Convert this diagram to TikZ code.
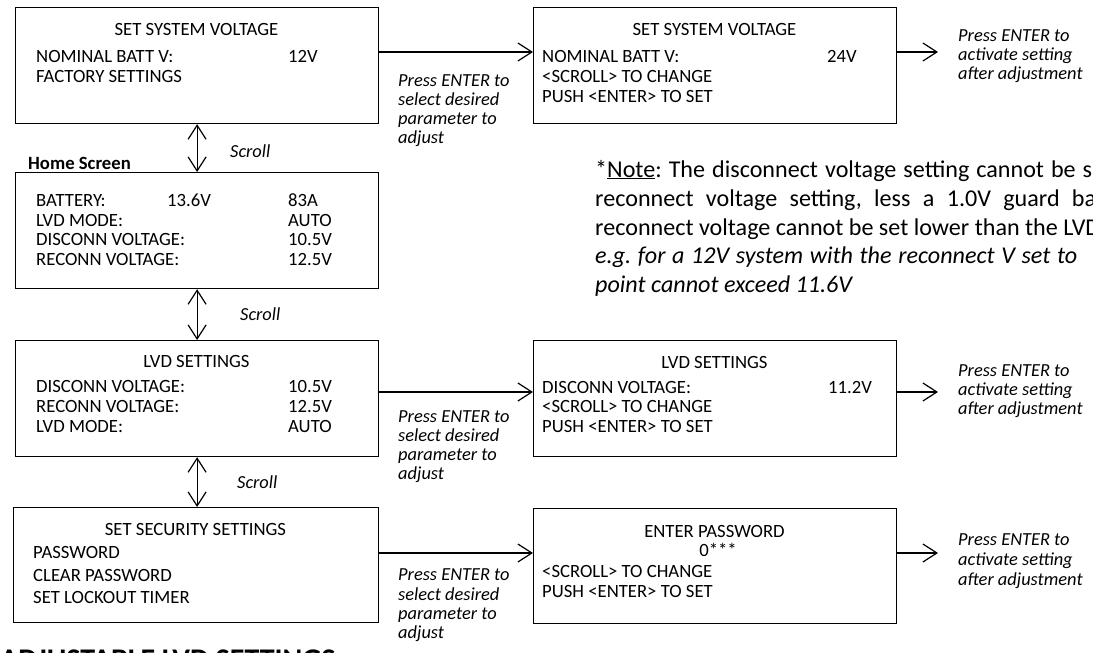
\documentclass[tikz,border=0pt]{standalone}
\usepackage{fontspec}
\setmainfont{Carlito}
\usetikzlibrary{arrows.meta}
\frenchspacing
\tikzset{
  box/.style={draw, line width=1.2pt, rectangle, anchor=north west, inner sep=0pt, minimum width=363pt, minimum height=116pt},
  tx/.style={anchor=base west, inner sep=0pt, font=\fontsize{18.7}{20}\selectfont},
  tc/.style={anchor=base, inner sep=0pt, font=\fontsize{18.7}{20}\selectfont},
  lab/.style={anchor=base west, inner sep=0pt, font=\fontsize{18.4}{20}\selectfont\itshape},
  note/.style={anchor=base west, inner sep=0pt, font=\fontsize{24.1}{28}\selectfont},
  arr/.style={line width=1.2pt, -{Straight Barb[length=14pt,width=18pt,line width=1.2pt]}},
  darr/.style={line width=1.2pt, {Straight Barb[length=14pt,width=18pt,line width=1.2pt]}-{Straight Barb[length=14pt,width=18pt,line width=1.2pt]}}
}
\begin{document}
\begin{tikzpicture}[x=1pt,y=-1pt]
\useasboundingbox (0,0) rectangle (1093,653);
\clip (0,0) rectangle (1093,653);
% ---------- boxes ----------
\node[box] (A) at (15,7) {};
\node[box] (B) at (533,7) {};
\node[box] (H) at (15,172) {};
\node[box] (L) at (15,340) {};
\node[box] (LR) at (533,340) {};
\node[box, minimum width=365pt, minimum height=115pt] (S) at (13,507) {};
\node[box, minimum height=115pt] (P) at (533,508) {};
% ---------- box A ----------
\node[tc] (a1) at (196.5,35) {SET SYSTEM VOLTAGE};
\node[tx] (a2) at (36,62) {NOMINAL BATT V:};
\node[tx] (a3) at (288,62) {12V};
\node[tx] (a4) at (36,82) {FACTORY SETTINGS};
% ---------- box B ----------
\node[tc] (b1) at (714.5,35) {SET SYSTEM VOLTAGE};
\node[tx] (b2) at (542,62) {NOMINAL BATT V:};
\node[tx] (b3) at (827,62) {24V};
\node[tx] (b4) at (542,82) {<SCROLL> TO CHANGE};
\node[tx] (b5) at (542,102) {PUSH <ENTER> TO SET};
% ---------- home ----------
\node[anchor=base west, inner sep=0pt, font=\fontsize{18.7}{20}\selectfont\bfseries] (hs) at (28,169) {Home Screen};
\node[tx] (h1) at (36,206) {BATTERY:};
\node[tx] (h2) at (167,206) {13.6V};
\node[tx] (h3) at (288,206) {83A};
\node[tx] (h4) at (36,226) {LVD MODE:};
\node[tx] (h5) at (288,226) {AUTO};
\node[tx] (h6) at (36,245) {DISCONN VOLTAGE:};
\node[tx] (h7) at (288,245) {10.5V};
\node[tx] (h8) at (36,265) {RECONN VOLTAGE:};
\node[tx] (h9) at (288,265) {12.5V};
% ---------- LVD ----------
\node[tc] (l1) at (196.5,367) {LVD SETTINGS};
\node[tx] (l2) at (36,392) {DISCONN VOLTAGE:};
\node[tx] (l3) at (288,392) {10.5V};
\node[tx] (l4) at (36,412) {RECONN VOLTAGE:};
\node[tx] (l5) at (288,412) {12.5V};
\node[tx] (l6) at (36,432) {LVD MODE:};
\node[tx] (l7) at (288,432) {AUTO};
% ---------- LVD right ----------
\node[tc] (r1) at (714.5,368) {LVD SETTINGS};
\node[tx] (r2) at (542,393) {DISCONN VOLTAGE:};
\node[tx] (r3) at (828,393) {11.2V};
\node[tx] (r4) at (542,412) {<SCROLL> TO CHANGE};
\node[tx] (r5) at (542,432) {PUSH <ENTER> TO SET};
% ---------- security ----------
\node[tc] (s1) at (195.5,535) {SET SECURITY SETTINGS};
\node[tx] (s2) at (33,558) {PASSWORD};
\node[tx] (s3) at (33,581) {CLEAR PASSWORD};
\node[tx] (s4) at (33,603) {SET LOCKOUT TIMER};
% ---------- password ----------
\node[tc] (p1) at (714.5,537) {ENTER PASSWORD};
\node[tc] (p2) at (718,556) {0***};
\node[tx] (p3) at (542,577) {<SCROLL> TO CHANGE};
\node[tx] (p4) at (542,597) {PUSH <ENTER> TO SET};
% ---------- horizontal arrows ----------
\coordinate (e1) at (938,52);
\coordinate (e2) at (938,392);
\coordinate (e3) at (938,553);
\draw[arr] (A.east |- e1) -- (B.west |- e1);
\draw[arr] (B.east |- e1) -- (e1);
\draw[arr] (L.east |- e2) -- (LR.west |- e2);
\draw[arr] (LR.east |- e2) -- (e2);
\draw[arr] (S.east |- e3) -- (P.west |- e3);
\draw[arr] (P.east |- e3) -- (e3);
% ---------- vertical arrows ----------
\draw[darr] (A.south) -- (H.north);
\draw[darr] (H.south) -- (L.north);
\draw[darr] (L.south) -- (L.south |- S.north);
\node[lab] (sc1) at (230,157) {Scroll};
\node[lab] (sc2) at (240,320) {Scroll};
\node[lab] (sc3) at (237,488) {Scroll};
% ---------- italic labels ----------
\node[lab] (m1a) at (398,86) {Press ENTER to};
\node[lab] (m1b) at (398,105) {select desired};
\node[lab] (m1c) at (398,124) {parameter to};
\node[lab] (m1d) at (398,143) {adjust};
\node[lab] (m2a) at (398,422) {Press ENTER to};
\node[lab] (m2b) at (398,441) {select desired};
\node[lab] (m2c) at (398,460) {parameter to};
\node[lab] (m2d) at (398,479) {adjust};
\node[lab] (m3a) at (398,580) {Press ENTER to};
\node[lab] (m3b) at (398,600) {select desired};
\node[lab] (m3c) at (398,619) {parameter to};
\node[lab] (m3d) at (398,638) {adjust};
\node[lab] (q1a) at (958,41) {Press ENTER to};
\node[lab] (q1b) at (958,60) {activate setting};
\node[lab] (q1c) at (958,79) {after adjustment};
\node[lab] (q2a) at (958,376) {Press ENTER to};
\node[lab] (q2b) at (958,395) {activate setting};
\node[lab] (q2c) at (958,414) {after adjustment};
\node[lab] (q3a) at (958,545) {Press ENTER to};
\node[lab] (q3b) at (958,565) {activate setting};
\node[lab] (q3c) at (958,585) {after adjustment};
% ---------- note ----------
\node[note] (n1) at (595,177) {\makebox[497pt][s]{*\underline{Note}: The disconnect voltage setting cannot be s}};
\node[note] (n2) at (595,206) {\makebox[501pt][s]{reconnect voltage setting, less a 1.0V guard ba}};
\node[note] (n3) at (595,235) {reconnect voltage cannot be set lower than the LVD};
\node[note] (n4) at (595,263) {\itshape\makebox[482pt][s]{e.g. for a 12V system with the reconnect V set to}};
\node[note] (n5) at (595,292) {\itshape point cannot exceed 11.6V};
% ---------- heading ----------
\node[anchor=base west, inner sep=0pt, font=\fontsize{30}{32}\selectfont\bfseries] (hd) at (0,669) {ADJUSTABLE LVD SETTINGS};
\end{tikzpicture}
\end{document}
